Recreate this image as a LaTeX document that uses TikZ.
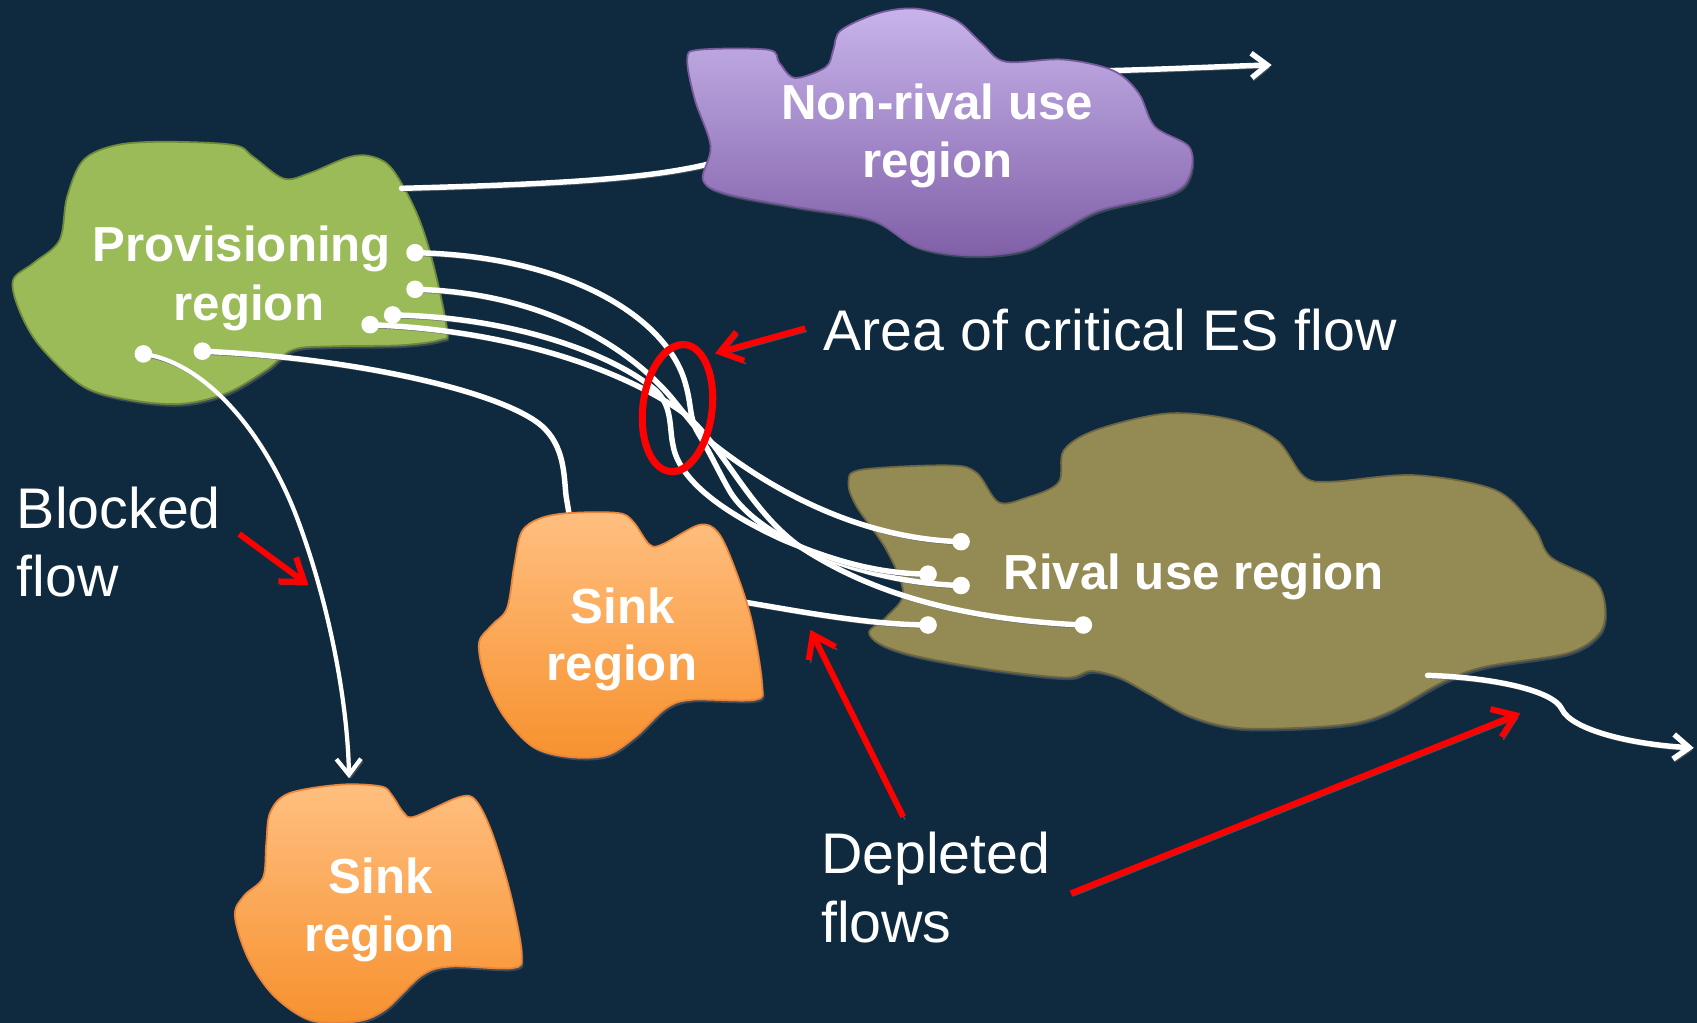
\documentclass[tikz,border=0pt]{standalone}
\usepackage{fontspec}
\setmainfont{Liberation Sans}
\usetikzlibrary{arrows.meta}
\definecolor{bg}{HTML}{0F2A3E}
\definecolor{provgreen}{HTML}{9BBB59}
\definecolor{provedge}{HTML}{6F8A3A}
\definecolor{purtop}{HTML}{C8B4EB}
\definecolor{purbot}{HTML}{8060A8}
\definecolor{puredge}{HTML}{7A5C9E}
\definecolor{ortop}{HTML}{FFBF80}
\definecolor{orbot}{HTML}{F7912E}
\definecolor{oredge}{HTML}{E8853A}
\definecolor{rivalc}{HTML}{948A54}
\definecolor{rivaledge}{HTML}{6E6640}
\definecolor{shadowc}{HTML}{56606B}
\def\pathProv{plot[smooth cycle, tension=0.55] coordinates {(12,259) (31,243) (55,222) (62,182) (77,148) (108,134) (154,131) (216,134) (234,145) (262,165) (286,160) (323,145) (345,145) (363,157) (385,197) (400,243) (413,305) (407,314) (370,319) (308,320) (271,323) (246,342) (210,363) (169,373) (123,370) (77,357) (37,320) (18,287)}}
\def\pathPurple{plot[smooth cycle, tension=0.55] coordinates {(635,55) (646,46) (710,46) (720,58) (734.5,72) (763,62) (770,46) (777,28) (812,12) (847,8) (883,18.5) (907,40) (929,57) (982,55) (1028,65) (1052,86) (1067,117) (1099,136) (1099,163) (1081,179) (1017,194) (982,212) (946,231) (897,236) (847,228) (805,203) (734.5,191) (671,179) (649.5,166) (656.6,135) (642,92)}}
\def\pathRival{plot[smooth cycle, tension=0.55] coordinates {(784,446) (796,434) (877,430) (902.5,437) (922.6,464) (948,460) (978,446) (983,416) (1013.6,397) (1079,382) (1139.7,388) (1180,407) (1205,440.5) (1231,445) (1306.6,439) (1382,453) (1417,487) (1432.6,514.5) (1473,536) (1483,560.5) (1478,585) (1448,603.6) (1372,616) (1331.6,631) (1281,659) (1238,670) (1149,673) (1100,662) (1060,640) (1034,626) (1008,620) (985,626) (918,619) (850,607) (815,596) (803,584) (819,570) (834.6,548) (819,508) (791.5,468)}}
\def\pathSinkUp{plot[smooth cycle, tension=0.55] coordinates {(482,491.5) (499,479) (526.6,474) (571,474) (585,482) (600,503) (612,503) (646,485) (663,491.5) (677,520) (694,571.5) (704,632) (697.5,646.6) (639,646.6) (615,654.6) (588,680) (561,697.6) (526.6,699.5) (492.5,690) (465,661) (448,625.5) (442.6,594) (454.6,577.5) (468.5,562) (475,523.5)}}
\def\pathSinkLow{plot[smooth cycle, tension=0.55] coordinates {(249.7,750.6) (267,733) (314.7,725) (352,726.6) (362,734.6) (372.8,750.6) (383,754.5) (424,736.6) (439.5,739.5) (454.8,770) (472,827.4) (482,881.5) (473.6,894.5) (417,893) (390,901) (355.7,933) (328,944) (287,942.6) (253,920) (229,885) (217,846) (225.7,827.4) (243,811) (246,779.5)}}
\begin{document}
\begin{tikzpicture}[x=0.010823cm, y=-0.010823cm,
  lbl/.style={font=\fontsize{14}{16.6}\selectfont\bfseries, text=white, inner sep=0pt, anchor=base},
  note/.style={font=\fontsize{16.3}{19.4}\selectfont, text=white, inner sep=0pt, anchor=base west},
  shadowed/.style={preaction={draw=shadowc, opacity=0.75, transform canvas={shift={(0.5pt,-0.8pt)}}}},
  flow/.style={draw=white, line width=1.55pt, line cap=round, shadowed},
  flowarrow/.style={flow, -{Straight Barb[length=4.5pt,width=7pt]}},
  dot/.style={circle, fill=white, inner sep=0pt, minimum size=5pt},
  redarrow/.style={draw=red, line width=1.7pt, shadowed, -{Straight Barb[length=6pt,width=8.5pt]}},
  shapeshadow/.style={fill=shadowc, opacity=0.6, shift={(1.5,2.5)}},
  regionedge/.style={line width=0.5pt}
]
\useasboundingbox (0,0) rectangle (1568,945);
\fill[bg] (0,0) rectangle (1568,945);

% coordinates
\coordinate (d1) at (383.5,233.5);
\coordinate (d2) at (383.5,267.3);
\coordinate (d3) at (362.8,291);
\coordinate (d4) at (342,300);
\coordinate (d5) at (187,324.5);
\coordinate (d6) at (132.5,327);
\coordinate (r1) at (888,500.5);
\coordinate (r2) at (857.5,530.5);
\coordinate (r3) at (888,541);
\coordinate (r4) at (857.5,577.5);
\coordinate (r5) at (1001,577.5);
\coordinate (gp) at (371,174);
\coordinate (pout) at (1175,60);
\coordinate (rvstart) at (1319,624);
\coordinate (rvout) at (1565,691);
\coordinate (sinkin) at (527,482);
\coordinate (sinkout) at (680,555);
\coordinate (blkend) at (322.5,719);

% provisioning and rival regions
\fill[shapeshadow] \pathProv;
\draw[regionedge, draw=provedge, fill=provgreen] \pathProv;
\fill[shapeshadow] \pathRival;
\draw[regionedge, draw=rivaledge, fill=rivalc] \pathRival;

% flow to non-rival region (passes under it)
\draw[flowarrow] (gp) .. controls (520,170) and (600,165) .. (657,151) .. controls (800,115) and (900,68) .. (1035,65) .. controls (1100,63) and (1140,61) .. (pout);
\fill[shapeshadow] \pathPurple;
\draw[regionedge, draw=puredge, top color=purtop, bottom color=purbot] \pathPurple;

% outflow of rival region
\draw[flowarrow] (rvstart) .. controls (1380,626) and (1435,638) .. (1443,655) .. controls (1452,675) and (1510,688) .. (rvout);

% flows from provisioning region
\draw[flow] (d1) .. controls (520,236) and (612,290) .. (632,350) .. controls (640,375) and (636,385) .. (645,400) .. controls (656,418) and (665,438) .. (675,455) .. controls (700,495) and (790,538) .. (r3);
\draw[flow] (d2) .. controls (500,270) and (580,320) .. (620,367) .. controls (635,385) and (645,400) .. (660,411) .. controls (720,458) and (800,498) .. (r1);
\draw[flow] (d3) .. controls (480,293) and (570,330) .. (605,360) .. controls (622,375) and (618,395) .. (622,412) .. controls (627,440) and (660,470) .. (724,499) .. controls (770,518) and (810,530) .. (r2);
\draw[flow] (d4) .. controls (470,305) and (570,340) .. (628,379) .. controls (665,405) and (690,470) .. (739,505) .. controls (800,545) and (880,572) .. (r5);
\draw[flow] (d5) .. controls (320,330) and (460,360) .. (500,393) .. controls (522,412) and (521,440) .. (523,458) -- (sinkin);
\draw[flowarrow, line width=1.2pt] (d6) .. controls (190,335) and (245,400) .. (275,480) .. controls (303,555) and (321,645) .. (blkend);
\draw[flow] (sinkout) .. controls (740,565) and (800,577) .. (r4);

% sink regions
\fill[shapeshadow] \pathSinkUp;
\draw[regionedge, draw=oredge, top color=ortop, bottom color=orbot] \pathSinkUp;
\fill[shapeshadow] \pathSinkLow;
\draw[regionedge, draw=oredge, top color=ortop, bottom color=orbot] \pathSinkLow;

% dots
\node[dot] (d1dot) at (d1) {};
\node[dot] (d2dot) at (d2) {};
\node[dot] (d3dot) at (d3) {};
\node[dot] (d4dot) at (d4) {};
\node[dot] (d5dot) at (d5) {};
\node[dot] (d6dot) at (d6) {};
\node[dot] (r1dot) at (r1) {};
\node[dot] (r2dot) at (r2) {};
\node[dot] (r3dot) at (r3) {};
\node[dot] (r4dot) at (r4) {};
\node[dot] (r5dot) at (r5) {};

% region labels
\node[lbl] (prov1) at (223.5,241.8) {Provisioning};
\node[lbl] (prov2) at (230,296.3) {region};
\node[lbl] (nr1) at (866,110) {Non-rival use};
\node[lbl] (nr2) at (866,164) {region};
\node[lbl] (rv) at (1103,545) {Rival use region};
\node[lbl] (su1) at (575.6,576) {Sink};
\node[lbl] (su2) at (574.6,629) {region};
\node[lbl] (sl1) at (351.6,826) {Sink};
\node[lbl] (sl2) at (350.8,878.7) {region};

% notes
\node[note] (area) at (760,323.5) {Area of critical ES flow};
\node[note] (blk1) at (15,488) {Blocked};
\node[note] (blk2) at (15,550.7) {flow};
\node[note] (dep1) at (758,807) {Depleted};
\node[note] (dep2) at (758,871) {flows};

% red annotations
\coordinate (areaS) at (744,303.4);
\coordinate (areaT) at (660.6,326.5);
\coordinate (blkS) at (221,493.4);
\coordinate (blkT) at (285,540.5);
\coordinate (dep1S) at (834.5,754.6);
\coordinate (dep1T) at (748.8,582);
\coordinate (dep2S) at (989.5,825.4);
\coordinate (dep2T) at (1404.8,659);
\draw[draw=red, line width=2pt, shadowed, rotate around={-7:(626,377)}] (626,377) ellipse [x radius=32, y radius=59];
\draw[redarrow] (areaS) -- (areaT);
\draw[redarrow] (blkS) -- (blkT);
\draw[redarrow] (dep1S) -- (dep1T);
\draw[redarrow] (dep2S) -- (dep2T);
\end{tikzpicture}
\end{document}
